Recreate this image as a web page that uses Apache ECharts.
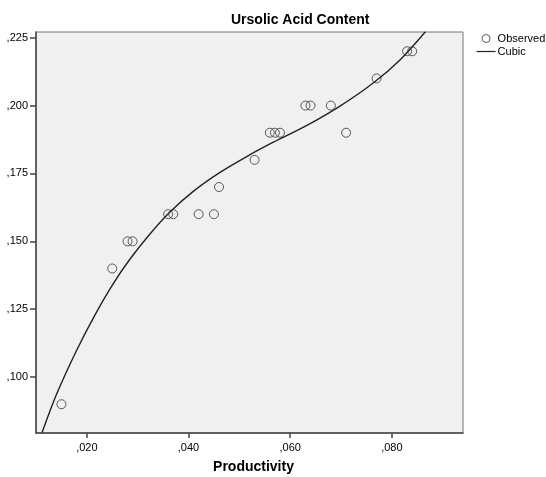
<!DOCTYPE html>
<html>
<head>
<meta charset="utf-8">
<script src="https://cdn.jsdelivr.net/npm/echarts@6/dist/echarts.min.js"></script>
<style>
  html, body { margin: 0; padding: 0; background: #fff; }
  #chart { width: 546px; height: 477px; }
</style>
</head>
<body>
<div id="chart"></div>
<script>
// observed points
var obsX = [0.015, 0.025, 0.028, 0.029, 0.036, 0.037, 0.042, 0.045, 0.046, 0.053,
            0.056, 0.057, 0.058, 0.063, 0.064, 0.068, 0.071, 0.077, 0.083, 0.084];
var obsY = [0.090, 0.140, 0.150, 0.150, 0.160, 0.160, 0.160, 0.160, 0.170, 0.180,
            0.190, 0.190, 0.190, 0.200, 0.200, 0.200, 0.190, 0.210, 0.220, 0.220];

// cubic fit curve
var fitX = [0.0112, 0.0140, 0.0180, 0.0214, 0.0252, 0.0285, 0.0325, 0.0364, 0.0410,
            0.0462, 0.0518, 0.0567, 0.0633, 0.0698, 0.0764, 0.0816, 0.0866];
var fitY = [0.0796, 0.0935, 0.1099, 0.1222, 0.1344, 0.1435, 0.1529, 0.1609, 0.1685,
            0.1754, 0.1816, 0.1865, 0.1927, 0.1998, 0.2084, 0.2168, 0.2272];

var xTicks = [0.02, 0.04, 0.06, 0.08];
var yTicks = [0.100, 0.125, 0.150, 0.175, 0.200, 0.225];

var font = 'Arial, "Liberation Sans", sans-serif';

function fmt(v) {
  return v.toFixed(3).replace('0.', ',');
}

var obsData = obsX.map(function (x, i) { return [x, obsY[i]]; });
var fitData = fitX.map(function (x, i) { return [x, fitY[i]]; });

var chart = echarts.init(document.getElementById('chart'));

var option = {
  animation: false,
  backgroundColor: '#fff',
  title: {
    text: 'Ursolic Acid Content',
    left: 231,
    top: 13,
    padding: 0,
    textStyle: { fontFamily: font, fontSize: 14, fontWeight: 'bold', color: '#000' }
  },
  legend: {
    orient: 'vertical',
    left: 476,
    top: 33,
    padding: 0,
    itemGap: 2,
    itemWidth: 19,
    itemHeight: 8,
    textStyle: { fontFamily: font, fontSize: 11, color: '#000', padding: [0, 0, 0, -3] },
    data: [
      { name: 'Observed', icon: 'circle',
        itemStyle: { color: 'transparent', borderColor: '#333', borderWidth: 1 } },
      { name: 'Cubic', itemStyle: { opacity: 0 },
        lineStyle: { color: '#222', width: 1.2 } }
    ]
  },
  grid: {
    show: true,
    left: 36,
    right: 83,
    top: 32,
    bottom: 44,
    outerBoundsMode: 'none',
    backgroundColor: '#f0f0f0',
    borderColor: '#777',
    borderWidth: 1
  },
  xAxis: {
    type: 'value',
    min: 0.010,
    max: 0.094,
    name: 'Productivity',
    nameLocation: 'middle',
    nameGap: 27,
    nameTextStyle: { fontFamily: font, fontSize: 14, fontWeight: 'bold', color: '#000', padding: [0, 0, 0, 8] },
    splitLine: { show: false },
    axisLine: { show: true, onZero: false, lineStyle: { color: '#444', width: 1.5 } },
    axisTick: { show: true, length: 5, customValues: xTicks, lineStyle: { color: '#444', width: 1.5 } },
    axisLabel: {
      customValues: xTicks,
      margin: 9,
      fontFamily: font,
      fontSize: 11,
      color: '#000',
      formatter: fmt
    }
  },
  yAxis: {
    type: 'value',
    min: 0.0794,
    max: 0.2271,
    splitLine: { show: false },
    axisLine: { show: true, onZero: false, lineStyle: { color: '#444', width: 1.5 } },
    axisTick: { show: true, length: 6, customValues: yTicks, lineStyle: { color: '#444', width: 1.5 } },
    axisLabel: {
      customValues: yTicks,
      margin: 8,
      fontFamily: font,
      fontSize: 11,
      color: '#000',
      formatter: fmt
    }
  },
  series: [
    {
      name: 'Observed',
      type: 'scatter',
      symbol: 'circle',
      symbolSize: 9,
      itemStyle: { color: 'transparent', borderColor: '#333', borderWidth: 1 },
      data: obsData,
      z: 3
    },
    {
      name: 'Cubic',
      type: 'line',
      smooth: 0.3,
      showSymbol: false,
      symbol: 'none',
      lineStyle: { color: '#222', width: 1.4 },
      itemStyle: { color: '#222' },
      data: fitData,
      z: 2
    }
  ]
};

chart.setOption(option);
</script>
</body>
</html>
